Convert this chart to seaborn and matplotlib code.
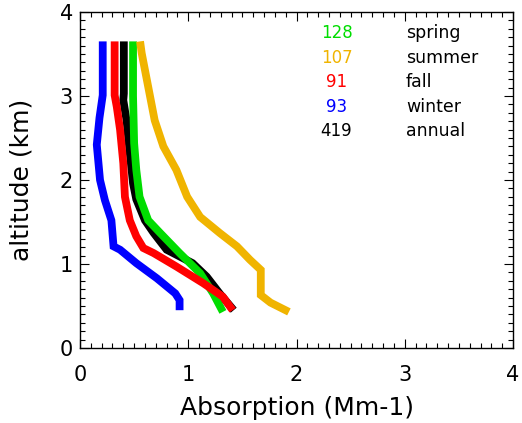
import matplotlib
matplotlib.use("Agg")
import matplotlib.pyplot as plt
from matplotlib.ticker import MultipleLocator
import seaborn as sns
import pandas as pd

# ---- data ----
winter_alt = [3.65, 3.01, 2.74, 2.42, 2.00, 1.76, 1.52, 1.21, 1.17, 1.01, 0.83, 0.65, 0.57, 0.45]
winter_abs = [0.21, 0.21, 0.18, 0.155, 0.185, 0.23, 0.29, 0.31, 0.37, 0.52, 0.71, 0.88, 0.92, 0.92]

fall_alt = [3.65, 3.01, 2.87, 2.60, 2.20, 1.80, 1.52, 1.33, 1.19, 1.13, 0.97, 0.77, 0.61, 0.45]
fall_abs = [0.32, 0.32, 0.34, 0.37, 0.40, 0.415, 0.46, 0.52, 0.585, 0.68, 0.89, 1.14, 1.32, 1.41]

annual_alt = [3.65, 3.03, 2.95, 2.71, 2.32, 1.96, 1.77, 1.52, 1.37, 1.17, 1.01, 0.85, 0.65, 0.45]
annual_abs = [0.405, 0.405, 0.40, 0.43, 0.46, 0.49, 0.52, 0.60, 0.68, 0.80, 1.04, 1.17, 1.29, 1.42]

spring_alt = [3.65, 3.00, 2.44, 2.12, 1.80, 1.52, 1.37, 1.13, 0.89, 0.65, 0.43]
spring_abs = [0.49, 0.49, 0.50, 0.52, 0.55, 0.63, 0.74, 0.92, 1.11, 1.23, 1.32]

summer_alt = [3.65, 3.51, 3.11, 2.71, 2.40, 2.12, 1.80, 1.56, 1.37, 1.21, 1.05, 0.93, 0.63, 0.54, 0.43]
summer_abs = [0.555, 0.57, 0.63, 0.69, 0.77, 0.89, 0.99, 1.11, 1.29, 1.45, 1.57, 1.67, 1.67, 1.76, 1.93]

season_names = ["spring", "summer", "fall", "winter", "annual"]
season_counts = ["128", "107", "91", "93", "419"]
season_colors = ["#00dd00", "#f0b400", "#ff0000", "#0000ff", "#000000"]
draw_order = ["annual", "spring", "summer", "fall", "winter"]

series = {
    "spring": (spring_abs, spring_alt),
    "summer": (summer_abs, summer_alt),
    "fall": (fall_abs, fall_alt),
    "winter": (winter_abs, winter_alt),
    "annual": (annual_abs, annual_alt),
}

rows = []
for name, (xs, ys) in series.items():
    for i, (xv, yv) in enumerate(zip(xs, ys)):
        rows.append({"season": name, "absorption": xv, "altitude": yv, "idx": i})
df = pd.DataFrame(rows)

palette = dict(zip(season_names, season_colors))

sns.set_theme(style="white")
plt.rcParams["font.family"] = ["DejaVu Sans"]
plt.rcParams["text.color"] = "black"
plt.rcParams["axes.labelcolor"] = "black"
plt.rcParams["xtick.color"] = "black"
plt.rcParams["ytick.color"] = "black"

fig = plt.figure(figsize=(5.22, 4.23), dpi=100)
ax = fig.add_axes([80 / 522, 1 - 348 / 423, (513 - 80) / 522, (348 - 12) / 423])

for name in draw_order:
    sub = df[df["season"] == name]
    sns.lineplot(data=sub, x="absorption", y="altitude", sort=False, estimator=None,
                 color=palette[name], linewidth=5.6, ax=ax, legend=False,
                 solid_capstyle="butt", solid_joinstyle="miter")

ax.set_xlim(0, 4)
ax.set_ylim(0, 4)
ax.xaxis.set_major_locator(MultipleLocator(1))
ax.yaxis.set_major_locator(MultipleLocator(1))
ax.xaxis.set_minor_locator(MultipleLocator(0.1))
ax.yaxis.set_minor_locator(MultipleLocator(0.1))
ax.tick_params(which="both", direction="in", top=True, right=True, bottom=True, left=True,
               color="black", width=0.8)
ax.tick_params(which="major", length=6.5)
ax.tick_params(which="minor", length=3.5)
ax.tick_params(axis="x", which="major", labelsize=15, pad=12, labelcolor="black")
ax.tick_params(axis="y", which="major", labelsize=15, pad=5, labelcolor="black")
for sp in ax.spines.values():
    sp.set_color("black")
    sp.set_linewidth(1.0)

ax.set_xlabel("Absorption (Mm-1)", fontsize=18, labelpad=8, color="black")
ax.set_ylabel("altitude (km)", fontsize=18, labelpad=19, color="black")

# legend-style text block
y0, dy = 3.69, 0.293
for i, (cnt, nm, col) in enumerate(zip(season_counts, season_names, season_colors)):
    ax.text(2.37, y0 - i * dy, cnt, color=col, fontsize=12, ha="center", va="baseline")
    ax.text(3.01, y0 - i * dy, nm, color="black", fontsize=12.5, ha="left", va="baseline")

fig.savefig("out.png", dpi=100, facecolor="white")
